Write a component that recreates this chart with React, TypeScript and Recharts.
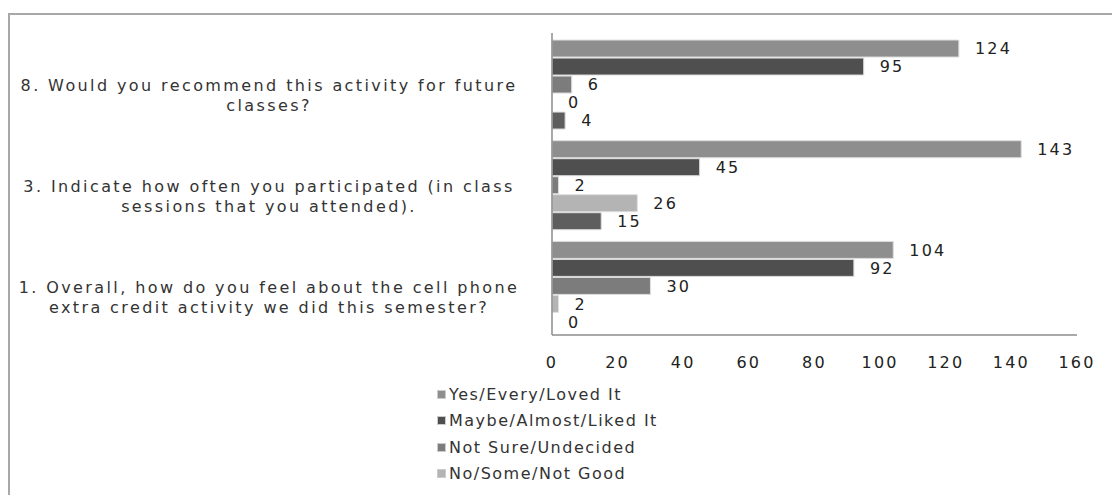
import React from "react"
import {
  BarChart,
  Bar,
  Cell,
  XAxis,
  YAxis,
  Legend,
  LabelList
} from "recharts"

const CATEGORIES = [
  "8. Would you recommend this activity for future\nclasses?",
  "3. Indicate how often you participated (in class\nsessions that you attended).",
  "1. Overall, how do you feel about the cell phone\nextra credit activity we did this semester?"
]

const SERIES_NAMES = [
  "Yes/Every/Loved It",
  "Maybe/Almost/Liked It",
  "Not Sure/Undecided",
  "No/Some/Not Good",
  "Series 5"
]

// one array per series, same order as CATEGORIES
const YES = [124, 143, 104]
const MAYBE = [95, 45, 92]
const NOT_SURE = [6, 2, 30]
const NO_SOME = [0, 26, 2]
const SERIES_5 = [4, 15, 0]

const X_TICKS = [0, 20, 40, 60, 80, 100, 120, 140, 160]

const COLORS = ["#8e8e8e", "#4f4f4f", "#7c7c7c", "#b4b4b4", "#5e5e5e"]

// only the first four legend entries are visible in the picture
const VISIBLE_LEGEND = 4

const SERIES = [YES, MAYBE, NOT_SURE, NO_SOME, SERIES_5]

const data = CATEGORIES.map((name, i) => {
  const row: any = { name }
  SERIES.forEach((s, j) => {
    row["s" + j] = s[i]
  })
  return row
})

const FONT = "'DejaVu Sans', Verdana, sans-serif"

const CategoryTick = ({ x, y, payload }: any) => {
  const lines = String(payload.value).split("\n")
  return (
    <text
      x={x - 275}
      y={y}
      textAnchor="middle"
      fontFamily={FONT}
      fontSize={16}
      letterSpacing={2.4}
      fill="#333"
    >
      {lines.map((line, i) => (
        <tspan key={i} x={x - 275} y={y + 8 + i * 20}>
          {line}
        </tspan>
      ))}
    </text>
  )
}

const LegendContent = () => (
  <div style={{ fontFamily: FONT, fontSize: 16, letterSpacing: 1.5, color: "#333" }}>
    {SERIES_NAMES.slice(0, VISIBLE_LEGEND).map((name, i) => (
      <div key={name} style={{ height: 26.5, display: "flex", alignItems: "center" }}>
        <span
          style={{
            display: "inline-block",
            width: 7,
            height: 7,
            background: COLORS[i],
            border: "1px solid #ccc",
            marginRight: 3
          }}
        />
        {name}
      </div>
    ))}
  </div>
)

// zero bars get a hair-thin width so their "0" labels still show
const zeroSize = (v: any) => (Number(v) === 0 ? 0.01 : 0)

export default function App() {

  return (

    <div style={{ position: "fixed", left: 0, top: 0, width: 1112, height: 495, overflow: "hidden", background: "#fff" }}>

      <div
        style={{
          position: "absolute",
          left: 8,
          top: 13,
          width: 1130,
          height: 540,
          border: "2px solid #a8a8a8",
          boxSizing: "border-box"
        }}
      />

      <div style={{ position: "absolute", left: 0, top: 0 }}>

        <BarChart
          width={1112}
          height={495}
          data={data}
          layout="vertical"
          margin={{ top: 33, right: 35, bottom: 120, left: 0 }}
          barCategoryGap="7%"
          barGap={1}
        >

          <XAxis
            type="number"
            domain={[0, 160]}
            ticks={X_TICKS}
            height={40}
            axisLine={{ stroke: "#8c8c8c", strokeWidth: 1.5 }}
            tickLine={false}
            tickMargin={16}
            tick={{ fontFamily: FONT, fontSize: 16, letterSpacing: 2.2, fill: "#222" }}
          />

          <YAxis
            type="category"
            dataKey="name"
            width={552}
            axisLine={{ stroke: "#8c8c8c", strokeWidth: 1.5 }}
            tickLine={false}
            tick={<CategoryTick />}
            interval={0}
          />

          <Legend
            layout="horizontal"
            verticalAlign="middle"
            align="center"
            content={<LegendContent />}
            wrapperStyle={{ position: "absolute", top: 381, left: 437, width: 300 }}
          />

          {SERIES_NAMES.map((name, i) => (
            <Bar
              key={name}
              dataKey={"s" + i}
              name={name}
              fill={COLORS[i]}
              stroke="#dedede"
              strokeWidth={1}
              minPointSize={zeroSize}
              isAnimationActive={false}
            >
              {SERIES[i].map((v, k) => (
                <Cell key={k} stroke={v === 0 ? "none" : "#dedede"} />
              ))}
              <LabelList
                dataKey={"s" + i}
                position="right"
                offset={16}
                fontFamily={FONT}
                fontSize={16}
                letterSpacing={2.2}
                fill="#222"
              />
            </Bar>
          ))}

        </BarChart>

      </div>

    </div>

  )
}
